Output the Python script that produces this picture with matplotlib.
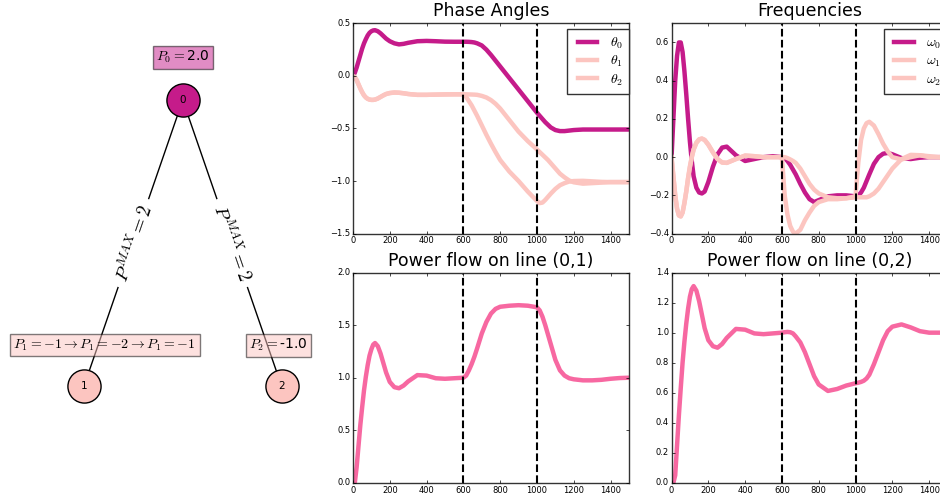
import math

import matplotlib
matplotlib.use("Agg")
import matplotlib.pyplot as plt

# ------------------------------------------------------------------
# data (time in simulation steps)
# ------------------------------------------------------------------
t = [0, 10, 20, 30, 40, 50, 60, 70, 80, 90, 100, 110, 120, 135, 150, 165, 180,
     200, 225, 250, 275, 300, 350, 400, 450, 500, 550,
     600, 615, 630, 645, 660, 675, 700, 725, 750, 775, 800, 850, 900, 950,
     1000, 1015, 1030, 1045, 1060, 1075, 1100, 1125, 1150, 1175, 1200,
     1250, 1300, 1350, 1400, 1450, 1500]

theta0 = [0.0, 0.03, 0.08, 0.14, 0.20, 0.26, 0.31, 0.35, 0.385, 0.41, 0.425, 0.433,
          0.435, 0.425, 0.405, 0.38, 0.355, 0.33, 0.31, 0.30, 0.305, 0.315, 0.33,
          0.333, 0.33, 0.326, 0.325,
          0.325, 0.325, 0.324, 0.322, 0.318, 0.31, 0.29, 0.25, 0.20, 0.145, 0.09,
          -0.02, -0.13, -0.24,
          -0.35, -0.38, -0.41, -0.44, -0.465, -0.49, -0.515, -0.525, -0.525, -0.52,
          -0.515, -0.51, -0.51, -0.51, -0.51, -0.51, -0.51]
theta1 = [0.0, -0.01, -0.04, -0.08, -0.12, -0.155, -0.185, -0.205, -0.218, -0.225,
          -0.228, -0.228, -0.225, -0.215, -0.20, -0.185, -0.172, -0.163, -0.158,
          -0.16, -0.165, -0.172, -0.18, -0.18, -0.178, -0.176, -0.175,
          -0.175, -0.20, -0.24, -0.28, -0.33, -0.38, -0.47, -0.56, -0.645, -0.725,
          -0.80, -0.91, -1.00, -1.10,
          -1.19, -1.21, -1.205, -1.18, -1.15, -1.12, -1.075, -1.04, -1.02, -1.005,
          -1.00, -0.998, -1.003, -1.008, -1.01, -1.01, -1.01]
theta2 = [0.0, -0.01, -0.04, -0.08, -0.12, -0.155, -0.185, -0.205, -0.218, -0.225,
          -0.228, -0.228, -0.225, -0.215, -0.20, -0.185, -0.172, -0.163, -0.158,
          -0.16, -0.165, -0.172, -0.18, -0.18, -0.178, -0.176, -0.175,
          -0.175, -0.175, -0.176, -0.177, -0.178, -0.18, -0.19, -0.205, -0.23,
          -0.265, -0.31, -0.42, -0.53, -0.62,
          -0.70, -0.725, -0.75, -0.775, -0.80, -0.83, -0.88, -0.93, -0.965, -0.995,
          -1.012, -1.025, -1.02, -1.015, -1.01, -1.01, -1.01]

omega0 = [0.0, 0.20, 0.40, 0.53, 0.60, 0.60, 0.55, 0.45, 0.33, 0.20, 0.08, -0.02,
          -0.10, -0.16, -0.185, -0.19, -0.18, -0.13, -0.05, 0.015, 0.05, 0.055,
          0.01, -0.02, -0.01, 0.0, 0.005,
          0.0, -0.005, -0.02, -0.04, -0.065, -0.09, -0.14, -0.185, -0.22, -0.235,
          -0.225, -0.205, -0.20, -0.20,
          -0.205, -0.20, -0.185, -0.16, -0.125, -0.09, -0.035, 0.0, 0.018, 0.022,
          0.015, -0.005, -0.01, -0.003, 0.0, 0.0, 0.0]
omega1 = [0.0, -0.10, -0.20, -0.27, -0.305, -0.31, -0.29, -0.24, -0.18, -0.11,
          -0.05, 0.0, 0.04, 0.075, 0.093, 0.097, 0.09, 0.065, 0.025, -0.01, -0.028,
          -0.03, -0.01, 0.008, 0.005, 0.0, 0.0,
          0.0, -0.20, -0.30, -0.36, -0.39, -0.40, -0.38, -0.33, -0.29, -0.255,
          -0.235, -0.22, -0.22, -0.215,
          -0.205, -0.03, 0.09, 0.15, 0.178, 0.185, 0.165, 0.12, 0.07, 0.03,
          0.0, -0.012, 0.0, 0.01, 0.005, 0.0, 0.0]
omega2 = [0.0, -0.10, -0.20, -0.27, -0.305, -0.31, -0.29, -0.24, -0.18, -0.11,
          -0.05, 0.0, 0.04, 0.075, 0.093, 0.097, 0.09, 0.065, 0.025, -0.01, -0.028,
          -0.03, -0.01, 0.008, 0.005, 0.0, 0.0,
          0.0, 0.0, -0.005, -0.012, -0.02, -0.03, -0.06, -0.10, -0.14, -0.17,
          -0.19, -0.21, -0.215, -0.215,
          -0.21, -0.21, -0.21, -0.21, -0.21, -0.205, -0.19, -0.165, -0.13, -0.095,
          -0.06, -0.01, 0.012, 0.01, 0.0, 0.0, 0.0]

flow01 = [0.0, 0.0, 0.15, 0.35, 0.55, 0.72, 0.88, 1.01, 1.12, 1.21, 1.27, 1.315,
          1.33, 1.30, 1.23, 1.14, 1.05, 0.96, 0.91, 0.90, 0.925, 0.965, 1.025,
          1.02, 0.995, 0.99, 0.995,
          1.0, 1.02, 1.07, 1.13, 1.20, 1.28, 1.42, 1.53, 1.61, 1.655, 1.675,
          1.685, 1.69, 1.685,
          1.67, 1.64, 1.58, 1.50, 1.41, 1.32, 1.17, 1.07, 1.02, 0.995, 0.985,
          0.975, 0.975, 0.98, 0.99, 0.997, 1.0]
flow02 = [0.0, 0.0, 0.05, 0.25, 0.45, 0.63, 0.80, 0.94, 1.06, 1.16, 1.24, 1.29,
          1.31, 1.28, 1.21, 1.12, 1.03, 0.95, 0.91, 0.90, 0.925, 0.965, 1.025,
          1.02, 0.995, 0.99, 0.995,
          1.0, 1.003, 1.005, 1.003, 0.995, 0.975, 0.935, 0.87, 0.79, 0.71, 0.655,
          0.612, 0.625, 0.648,
          0.663, 0.667, 0.672, 0.68, 0.695, 0.72, 0.79, 0.87, 0.95, 1.01, 1.04,
          1.055, 1.035, 1.01, 1.0, 1.0, 1.0]

events = [600, 1000]

# network: bus layout, injections, line limits
nodes = [0, 1, 2]
node_pos = {0: (0.0, 1.0), 1: (-1.0, 0.0), 2: (1.0, 0.0)}
edges = [(0, 1), (0, 2)]
edge_label = r"$P^{MAX}=2$"
node_text = {
    0: r"$P_0=$2.0",
    1: r"$P_1=-1 \rightarrow P_1=-2 \rightarrow P_1=-1$",
    2: r"$P_2=$-1.0",
}

C_DARK = "#c51b8a"
C_LIGHT = "#fcc5c0"
C_FLOW = "#f768a1"
node_color = {0: C_DARK, 1: C_LIGHT, 2: C_LIGHT}

plt.style.use("classic")
plt.rcParams["figure.facecolor"] = "white"
plt.rcParams["savefig.facecolor"] = "white"
plt.rcParams["xtick.labelsize"] = 6
plt.rcParams["ytick.labelsize"] = 6
plt.rcParams["xtick.major.size"] = 2.5
plt.rcParams["ytick.major.size"] = 2.5
plt.rcParams["xtick.minor.size"] = 0
plt.rcParams["ytick.minor.size"] = 0
plt.rcParams["xtick.major.pad"] = 2
plt.rcParams["ytick.major.pad"] = 2
plt.rcParams["axes.edgecolor"] = "#333333"

fig = plt.figure(figsize=(9.4, 4.97), dpi=100)

# ------------------------------------------------------------------
# network drawing
# ------------------------------------------------------------------
axg = fig.add_axes([0.0, 0.0, 0.34, 1.0])
axg.set_xlim(-1.85, 1.385)
axg.set_ylim(-0.388, 1.35)
axg.axis("off")

for u, v in edges:
    (x0, y0), (x1, y1) = node_pos[u], node_pos[v]
    axg.plot([x0, x1], [y0, y1], color="black", lw=1.0, zorder=1)

for n in nodes:
    x, y = node_pos[n]
    axg.scatter([x], [y], s=570, c=node_color[n], edgecolors="black",
                linewidths=1.0, zorder=2)
    axg.text(x, y, str(n), ha="center", va="center", fontsize=7.5, zorder=3)

# edge labels rotated along the line, white box breaks the line
for u, v in edges:
    (x0, y0), (x1, y1) = node_pos[u], node_pos[v]
    p0 = axg.transData.transform((x0, y0))
    p1 = axg.transData.transform((x1, y1))
    ang = math.degrees(math.atan2(p1[1] - p0[1], p1[0] - p0[0]))
    if ang > 90:
        ang -= 180
    if ang < -90:
        ang += 180
    axg.text((x0 + x1) / 2, (y0 + y1) / 2, edge_label, fontsize=13.5,
             rotation=ang, rotation_mode="anchor", ha="center", va="center",
             bbox=dict(boxstyle="round", fc="white", ec="white"), zorder=1.5)

label_shift = {0: (0.0, 0.15), 1: (0.21, 0.143), 2: (-0.03, 0.143)}
for n in nodes:
    x, y = node_pos[n]
    dx, dy = label_shift[n]
    axg.text(x + dx, y + dy, node_text[n], ha="center", va="center",
             fontsize=10, zorder=4,
             bbox=dict(facecolor=node_color[n], alpha=0.5, pad=2.5))

# ------------------------------------------------------------------
# time series panels
# ------------------------------------------------------------------
W = 0.2936
H = 0.423
ax_th = fig.add_axes([0.3755, 0.5300, W, H])
ax_om = fig.add_axes([0.7144, 0.5300, W, H])
ax_f1 = fig.add_axes([0.3755, 0.0285, W, H])
ax_f2 = fig.add_axes([0.7144, 0.0285, W, H])

LW = 3.2
ax_th.plot(t, theta0, color=C_DARK, lw=LW, label=r"$\theta_0$")
ax_th.plot(t, theta1, color=C_LIGHT, lw=LW, label=r"$\theta_1$")
ax_th.plot(t, theta2, color=C_LIGHT, lw=LW, label=r"$\theta_2$")
ax_th.set_ylim(-1.5, 0.5)
ax_th.set_yticks([-1.5, -1.0, -0.5, 0.0, 0.5])
ax_th.set_title("Phase Angles", fontsize=12.5)

ax_om.plot(t, omega0, color=C_DARK, lw=LW, label=r"$\omega_0$")
ax_om.plot(t, omega1, color=C_LIGHT, lw=LW, label=r"$\omega_1$")
ax_om.plot(t, omega2, color=C_LIGHT, lw=LW, label=r"$\omega_2$")
ax_om.set_ylim(-0.4, 0.7)
ax_om.set_yticks([-0.4, -0.2, 0.0, 0.2, 0.4, 0.6])
ax_om.set_title("Frequencies", fontsize=12.5)

ax_f1.plot(t, flow01, color=C_FLOW, lw=LW)
ax_f1.set_ylim(0, 2.0)
ax_f1.set_yticks([0.0, 0.5, 1.0, 1.5, 2.0])
ax_f1.set_title("Power flow on line (0,1)", fontsize=12.5)

ax_f2.plot(t, flow02, color=C_FLOW, lw=LW)
ax_f2.set_ylim(0, 1.4)
ax_f2.set_yticks([0.0, 0.2, 0.4, 0.6, 0.8, 1.0, 1.2, 1.4])
ax_f2.set_title("Power flow on line (0,2)", fontsize=12.5)

for ax in (ax_th, ax_om, ax_f1, ax_f2):
    for ev in events:
        ax.axvline(ev, color="black", lw=1.5, dashes=(5.5, 2.4))
    ax.set_xlim(0, 1500)
    ax.set_xticks(range(0, 1501, 200))

for ax in (ax_th, ax_om):
    ax.legend(loc="upper right", bbox_to_anchor=(1.0, 0.972), fontsize=10,
              handlelength=2.0, handletextpad=0.6, borderpad=0.45,
              borderaxespad=0.0, labelspacing=0.22)

fig.savefig("out.png", dpi=100)
